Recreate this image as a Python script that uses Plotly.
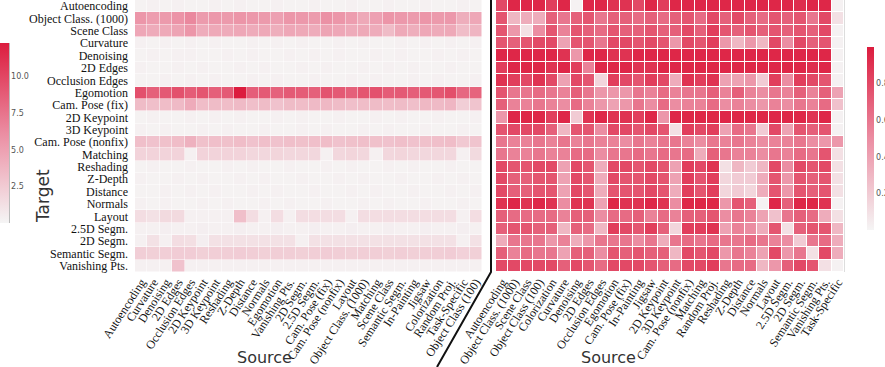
import plotly.graph_objects as go

targets = ["Autoencoding", "Object Class. (1000)", "Scene Class", "Curvature", "Denoising",
           "2D Edges", "Occlusion Edges", "Egomotion", "Cam. Pose (fix)", "2D Keypoint",
           "3D Keypoint", "Cam. Pose (nonfix)", "Matching", "Reshading", "Z-Depth", "Distance",
           "Normals", "Layout", "2.5D Segm.", "2D Segm.", "Semantic Segm.", "Vanishing Pts."]

left_sources = ["Autoencoding", "Curvature", "Denoising", "2D Edges", "Occlusion Edges",
                "2D Keypoint", "3D Keypoint", "Reshading", "Z-Depth", "Distance", "Normals",
                "Egomotion", "Vanishing Pts.", "2D Segm.", "2.5D Segm.", "Cam. Pose (fix)",
                "Cam. Pose (nonfix)", "Layout", "Object Class. (1000)", "Matching", "Scene Class",
                "Semantic Segm.", "In-Painting", "Jigsaw", "Colorization", "Random Proj.",
                "Task-Specific", "Object Class (100)"]

right_sources = ["Autoencoding", "Object Class. (1000)", "Scene Class", "Object Class (100)",
                 "Colorization", "Curvature", "Denoising", "2D Edges", "Occlusion Edges",
                 "Egomotion", "Cam. Pose (fix)", "In-Painting", "Jigsaw", "2D Keypoint",
                 "3D Keypoint", "Cam. Pose (nonfix)", "Matching", "Random Proj.", "Reshading",
                 "Z-Depth", "Distance", "Normals", "Layout", "2.5D Segm.", "2D Segm.",
                 "Semantic Segm.", "Vanishing Pts.", "Task-Specific"]

# ---- left matrix (absolute values, 0..12.3) ----
left_autoencoding = [0.2,0.3,0.2,0.3,0.2,0.2,0.3,0.2,0.3,0.2,0.2,0.3,0.2,0.2,0.3,0.2,0.2,0.3,0.2,0.2,0.3,0.2,0.2,0.3,0.2,0.2,0.3,0.2]
left_objclass = [5.6,5.2,5.4,5.8,6.4,5.3,5.5,5.4,5.7,5.5,5.4,5.0,5.6,5.5,5.3,5.9,5.6,5.2,4.5,5.0,5.7,5.5,5.3,5.6,5.4,5.5,4.2,4.6]
left_scene = [4.6,4.4,4.5,4.8,5.6,4.3,4.5,4.4,4.6,4.4,4.5,4.2,4.6,4.5,4.3,4.8,4.6,4.4,4.5,4.3,3.4,4.5,4.2,4.6,4.4,4.5,3.3,3.8]
left_curvature = [0.3,0.2,0.3,0.2,0.3,0.2,0.3,0.2,0.2,0.3,0.2,0.3,0.2,0.3,0.2,0.2,0.3,0.2,0.3,0.2,0.2,0.3,0.2,0.3,0.2,0.3,0.2,0.3]
left_denoising = [0.2,0.3,0.2,0.3,0.3,0.2,0.2,0.3,0.2,0.3,0.2,0.2,0.3,0.2,0.3,0.2,0.3,0.2,0.2,0.3,0.2,0.3,0.2,0.2,0.3,0.2,0.3,0.2]
left_edges2d = [0.3,0.2,0.2,0.3,0.2,0.3,0.2,0.2,0.3,0.2,0.3,0.2,0.2,0.3,0.2,0.3,0.2,0.2,0.3,0.2,0.3,0.2,0.3,0.2,0.2,0.3,0.2,0.2]
left_occlusion = [0.2,0.2,0.3,0.2,0.3,0.2,0.3,0.2,0.2,0.3,0.2,0.3,0.2,0.2,0.3,0.2,0.2,0.3,0.2,0.3,0.2,0.2,0.3,0.2,0.3,0.2,0.2,0.3]
left_egomotion = [9.5,8.6,9.0,9.4,8.8,9.2,8.6,8.9,12.3,8.7,8.9,8.5,8.9,8.8,8.6,9.3,9.0,8.6,9.2,9.4,8.8,8.9,8.7,9.0,9.1,9.6,8.2,8.4]
left_camfix = [3.4,3.2,3.3,3.5,4.4,3.3,3.4,3.3,3.5,3.2,3.4,3.0,3.4,3.3,3.5,3.6,3.4,3.2,3.3,3.4,3.3,3.4,3.2,3.6,3.5,3.7,2.3,2.9]
left_kp2d = [0.2,0.3,0.2,0.2,0.3,0.2,0.3,0.2,0.3,0.2,0.2,0.3,0.2,0.3,0.2,0.2,0.3,0.2,0.2,0.3,0.2,0.3,0.2,0.2,0.3,0.2,0.2,0.3]
left_kp3d = [0.3,0.2,0.3,0.2,0.2,0.3,0.2,0.3,0.2,0.2,0.3,0.2,0.2,0.3,0.2,0.3,0.2,0.2,0.3,0.2,0.3,0.2,0.2,0.3,0.2,0.2,0.3,0.2]
left_camnonfix = [3.2,3.0,3.1,3.3,4.0,3.1,3.2,3.1,3.3,3.0,3.2,3.0,3.2,3.1,3.2,3.3,3.0,3.1,3.2,3.1,3.0,3.2,3.0,3.1,3.2,3.3,2.6,2.9]
left_matching = [2.0,2.0,2.0,2.0,0.3,2.0,2.0,2.0,2.0,1.8,1.8,1.9,1.8,1.8,1.8,0.3,1.8,1.9,1.8,0.3,1.8,1.9,1.8,1.8,1.8,1.8,0.3,1.6]
left_reshading = [0.2,0.3,0.2,0.2,0.3,0.2,0.2,0.3,0.2,0.3,0.2,0.2,0.3,0.2,0.2,0.3,0.2,0.3,0.2,0.2,0.3,0.2,0.3,0.2,0.2,0.3,0.2,0.2]
left_zdepth = [0.3,0.2,0.2,0.3,0.2,0.3,0.2,0.2,0.3,0.2,0.3,0.2,0.2,0.3,0.2,0.2,0.3,0.2,0.3,0.2,0.2,0.3,0.2,0.2,0.3,0.2,0.3,0.2]
left_distance = [0.2,0.2,0.3,0.2,0.3,0.2,0.3,0.2,0.2,0.3,0.2,0.3,0.2,0.2,0.3,0.2,0.2,0.3,0.2,0.3,0.2,0.2,0.3,0.2,0.2,0.3,0.2,0.3]
left_normals = [0.3,0.2,0.3,0.2,0.2,0.3,0.2,0.3,0.2,0.2,0.3,0.2,0.3,0.2,0.2,0.3,0.2,0.2,0.3,0.2,0.3,0.2,0.2,0.3,0.2,0.2,0.3,0.2]
left_layout = [1.4,1.2,1.6,1.6,0.3,0.3,0.3,0.3,3.2,1.4,0.3,1.4,0.3,1.4,1.4,1.4,1.4,0.3,1.4,1.4,1.4,1.4,1.4,1.4,1.4,1.4,0.3,1.4]
left_seg25d = [0.3,0.3,0.4,0.3,0.3,0.4,0.3,0.3,0.4,0.3,0.3,0.4,0.3,0.3,0.4,0.3,0.3,0.4,0.3,0.3,0.4,0.3,0.3,0.4,0.3,0.3,0.4,0.3]
left_seg2d = [0.3,1.2,0.3,1.4,1.3,0.4,1.2,1.2,1.2,1.2,1.2,1.2,1.2,0.3,1.2,1.2,1.2,1.2,1.2,1.2,1.2,1.2,1.2,1.2,1.2,1.2,0.3,1.2]
left_semantic = [2.3,2.2,2.3,2.4,2.4,2.2,2.3,2.3,2.4,2.3,2.2,2.3,2.3,2.2,2.3,2.4,2.3,2.2,2.3,2.3,2.2,2.3,2.2,2.3,2.3,2.4,2.1,2.2]
left_vanishing = [0.3,0.3,0.3,3.0,0.3,0.3,0.3,0.3,0.3,0.3,0.3,0.3,0.3,0.3,0.3,0.3,0.3,0.3,0.3,0.3,0.3,0.3,0.3,0.3,0.3,0.3,0.3,0.3]

# ---- right matrix (normalised, 0..1) ----
right_autoencoding = [0.8,0.95,0.95,0.95,0.85,0.95,0.02,0.95,0.95,0.9,0.9,0.8,0.95,0.85,0.95,0.95,0.95,0.95,0.95,0.95,0.95,0.95,0.95,0.95,0.92,0.95,0.95,0.02]
right_objclass = [0.75,0.3,0.35,0.35,0.7,0.6,0.7,0.75,0.6,0.7,0.7,0.65,0.7,0.65,0.7,0.75,0.65,0.8,0.7,0.8,0.7,0.65,0.75,0.7,0.75,0.6,0.8,0.1]
right_scene = [0.75,0.45,0.1,0.5,0.75,0.55,0.75,0.7,0.65,0.75,0.7,0.7,0.75,0.7,0.7,0.8,0.7,0.85,0.75,0.7,0.75,0.7,0.75,0.7,0.75,0.7,0.8,0.02]
right_curvature = [0.75,0.7,0.75,0.8,0.8,0.4,0.75,0.75,0.6,0.8,0.8,0.75,0.8,0.75,0.45,0.8,0.75,0.85,0.45,0.3,0.45,0.3,0.8,0.5,0.8,0.7,0.75,0.02]
right_denoising = [0.95,0.95,0.95,0.95,0.95,0.9,0.45,0.95,0.95,0.9,0.9,0.95,0.95,0.95,0.95,0.95,0.95,0.95,0.95,0.95,0.95,0.95,0.95,0.95,0.95,0.95,0.95,0.02]
right_edges2d = [0.85,0.95,0.95,0.95,0.9,0.95,0.85,0.55,0.95,0.95,0.95,0.9,0.9,0.95,0.95,0.95,0.95,0.95,0.95,0.95,0.95,0.95,0.95,0.95,0.95,0.92,0.95,0.02]
right_occlusion = [0.9,0.85,0.8,0.9,0.8,0.4,0.8,0.75,0.15,0.85,0.8,0.75,0.85,0.8,0.35,0.9,0.85,0.9,0.4,0.4,0.45,0.2,0.85,0.5,0.85,0.8,0.75,0.02]
right_egomotion = [0.75,0.6,0.6,0.65,0.6,0.55,0.7,0.6,0.45,0.45,0.45,0.6,0.55,0.65,0.55,0.6,0.6,0.7,0.55,0.7,0.55,0.5,0.6,0.55,0.7,0.55,0.7,0.4]
right_camfix = [0.7,0.55,0.55,0.6,0.55,0.5,0.65,0.55,0.45,0.4,0.45,0.6,0.5,0.65,0.5,0.55,0.55,0.65,0.5,0.55,0.5,0.45,0.55,0.5,0.6,0.55,0.65,0.25]
right_kp2d = [0.45,0.95,0.95,0.95,0.85,0.95,0.2,0.9,0.95,0.9,0.9,0.85,0.95,0.45,0.95,0.95,0.95,0.95,0.95,0.95,0.95,0.95,0.95,0.95,0.95,0.9,0.95,0.02]
right_kp3d = [0.75,0.8,0.8,0.8,0.7,0.3,0.75,0.75,0.5,0.8,0.8,0.75,0.8,0.75,0.1,0.85,0.8,0.85,0.4,0.65,0.6,0.2,0.8,0.4,0.75,0.7,0.75,0.02]
right_camnonfix = [0.6,0.55,0.55,0.6,0.55,0.6,0.55,0.6,0.55,0.55,0.5,0.6,0.55,0.6,0.6,0.55,0.5,0.6,0.55,0.6,0.55,0.5,0.55,0.55,0.6,0.5,0.45,0.45]
right_matching = [0.6,0.55,0.55,0.6,0.55,0.55,0.65,0.65,0.5,0.6,0.6,0.65,0.6,0.65,0.6,0.65,0.35,0.7,0.6,0.55,0.55,0.5,0.6,0.55,0.65,0.6,0.75,0.1]
right_reshading = [0.8,0.75,0.75,0.8,0.8,0.4,0.8,0.75,0.35,0.8,0.8,0.75,0.8,0.75,0.4,0.85,0.8,0.9,0.1,0.3,0.2,0.3,0.8,0.5,0.8,0.75,0.8,0.1]
right_zdepth = [0.8,0.7,0.7,0.75,0.75,0.4,0.8,0.75,0.35,0.8,0.75,0.75,0.8,0.75,0.4,0.85,0.75,0.85,0.15,0.2,0.2,0.35,0.75,0.45,0.75,0.7,0.75,0.1]
right_distance = [0.8,0.7,0.7,0.75,0.75,0.4,0.8,0.75,0.35,0.75,0.75,0.75,0.8,0.75,0.35,0.85,0.75,0.85,0.15,0.2,0.15,0.35,0.75,0.45,0.75,0.7,0.75,0.1]
right_normals = [0.9,0.95,0.9,0.95,0.9,0.5,0.9,0.9,0.4,0.95,0.9,0.9,0.95,0.9,0.5,0.95,0.95,0.95,0.45,0.75,0.7,0.02,0.95,0.7,0.95,0.95,0.9,0.02]
right_layout = [0.7,0.65,0.65,0.65,0.65,0.55,0.7,0.7,0.5,0.65,0.65,0.7,0.55,0.65,0.55,0.7,0.7,0.75,0.5,0.6,0.55,0.4,0.25,0.6,0.7,0.65,0.35,0.1]
right_seg25d = [0.7,0.75,0.75,0.7,0.7,0.3,0.7,0.65,0.3,0.85,0.8,0.75,0.85,0.7,0.15,0.85,0.85,0.9,0.4,0.55,0.5,0.35,0.75,0.1,0.7,0.75,0.75,0.3]
right_seg2d = [0.35,0.6,0.6,0.6,0.45,0.55,0.35,0.45,0.6,0.6,0.6,0.5,0.6,0.35,0.6,0.65,0.6,0.65,0.6,0.6,0.65,0.6,0.55,0.5,0.2,0.6,0.65,0.35]
right_semantic = [0.7,0.55,0.65,0.6,0.6,0.4,0.7,0.7,0.5,0.75,0.7,0.75,0.7,0.7,0.3,0.8,0.75,0.8,0.45,0.6,0.55,0.4,0.8,0.45,0.6,0.1,0.8,0.35]
right_vanishing = [0.8,0.8,0.8,0.8,0.8,0.7,0.8,0.75,0.65,0.8,0.8,0.8,0.75,0.7,0.65,0.8,0.8,0.85,0.6,0.65,0.65,0.3,0.45,0.7,0.8,0.75,0.1,0.02]

left_z = [left_autoencoding, left_objclass, left_scene, left_curvature, left_denoising,
          left_edges2d, left_occlusion, left_egomotion, left_camfix, left_kp2d, left_kp3d,
          left_camnonfix, left_matching, left_reshading, left_zdepth, left_distance,
          left_normals, left_layout, left_seg25d, left_seg2d, left_semantic, left_vanishing]
right_z = [right_autoencoding, right_objclass, right_scene, right_curvature, right_denoising,
           right_edges2d, right_occlusion, right_egomotion, right_camfix, right_kp2d, right_kp3d,
           right_camnonfix, right_matching, right_reshading, right_zdepth, right_distance,
           right_normals, right_layout, right_seg25d, right_seg2d, right_semantic, right_vanishing]

W, H = 885, 367
cscale = [[0.0, "#f5f5f5"], [0.5, "#eb8da2"], [1.0, "#dc1c3e"]]
serif = "Liberation Serif"
sans = "DejaVu Sans"

def px(x):
    return x / W

def py(y):
    return 1 - y / H

fig = go.Figure()
fig.add_trace(go.Heatmap(
    z=left_z, x=left_sources, y=targets, xaxis="x", yaxis="y",
    colorscale=cscale, zmin=0, zmax=12.3, xgap=0.5, ygap=0.5,
    colorbar=dict(x=0, xanchor="left", xpad=0, y=py(133), yanchor="middle",
                  lenmode="pixels", len=180, ypad=0, thickness=9, outlinewidth=0,
                  tickvals=[2.5, 5.0, 7.5, 10.0], ticktext=["2.5", "5.0", "7.5", "10.0"],
                  ticks="", tickfont=dict(family=sans, size=8, color="#555"))))
fig.add_trace(go.Heatmap(
    z=right_z, x=right_sources, y=targets, xaxis="x2", yaxis="y2",
    colorscale=cscale, zmin=0, zmax=1, xgap=1, ygap=1,
    colorbar=dict(x=px(867), xanchor="left", xpad=0, y=py(138.5), yanchor="middle",
                  lenmode="pixels", len=183, ypad=0, thickness=7, outlinewidth=0,
                  tickvals=[0.2, 0.4, 0.6, 0.8], ticktext=["0.2", "0.4", "0.6", "0.8"],
                  ticks="", tickfont=dict(family=sans, size=8, color="#555"))))

axis_common = dict(showgrid=False, zeroline=False, showline=False, ticks="", automargin=False)
tfont = dict(family=serif, size=12, color="#111")
fig.update_layout(
    width=W, height=H, margin=dict(l=0, r=0, t=0, b=0, autoexpand=False),
    paper_bgcolor="white", plot_bgcolor="white",
    xaxis=dict(domain=[px(135), px(482)], anchor="y", tickangle=-57, tickfont=tfont,
               tickmode="array", tickvals=left_sources, ticktext=left_sources, **axis_common),
    yaxis=dict(domain=[py(272), 1], anchor="x", autorange="reversed", ticklabelstandoff=6,
               tickmode="array", tickvals=targets, ticktext=targets, tickfont=tfont,
               **axis_common),
    xaxis2=dict(domain=[px(496), px(844)], anchor="y2", tickangle=-57, tickfont=tfont,
                tickmode="array", tickvals=right_sources, ticktext=right_sources, **axis_common),
    yaxis2=dict(domain=[py(272), 1], anchor="x2", autorange="reversed",
                showticklabels=False, **axis_common),
    annotations=[
        dict(text="Target", x=px(43), y=py(196), xref="paper", yref="paper",
             xanchor="center", yanchor="middle",
             textangle=-90, showarrow=False, font=dict(family=sans, size=17, color="#333")),
        dict(text="Source", x=px(264), y=py(357), xref="paper", yref="paper",
             xanchor="center", yanchor="middle",
             showarrow=False, font=dict(family=sans, size=16, color="#333")),
        dict(text="Source", x=px(608), y=py(357), xref="paper", yref="paper",
             xanchor="center", yanchor="middle",
             showarrow=False, font=dict(family=sans, size=16, color="#333")),
    ],
    shapes=[
        dict(type="path", xref="paper", yref="paper",
             path=f"M {px(491)},1 L {px(491)},{py(272)} L {px(437)},0",
             line=dict(color="#111", width=2)),
        dict(type="line", xref="paper", yref="paper", x0=px(844.5), x1=px(844.5),
             y0=py(272), y1=1, line=dict(color="#dddddd", width=1)),
        dict(type="line", xref="paper", yref="paper", x0=px(9.5), x1=px(9.5),
             y0=py(223), y1=py(43), line=dict(color="#bbbbbb", width=1)),
    ],
)

fig.write_html("out.html", config={"displayModeBar": False},
               post_script="document.body.style.margin='0';document.body.style.padding='0';")
